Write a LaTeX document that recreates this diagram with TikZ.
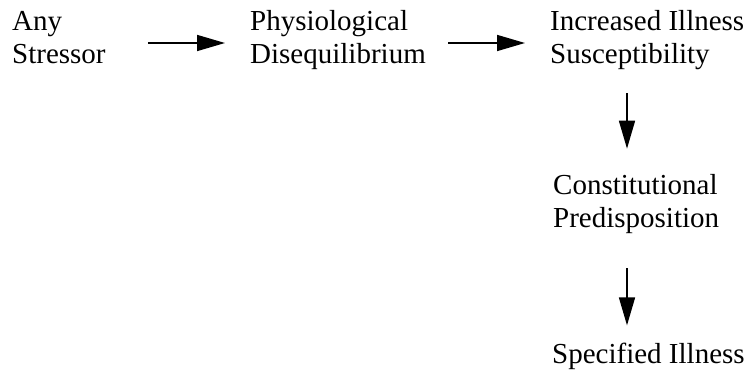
\documentclass[tikz,border=0pt]{standalone}
\usepackage{fontspec}
\setmainfont{Liberation Serif}
\usetikzlibrary{arrows.meta,calc}
\begin{document}
\begin{tikzpicture}[x=1pt,y=1pt,
  label/.style={inner sep=0pt,align=left,anchor=base west,
    font=\fontsize{29}{33}\selectfont},
  arr/.style={line width=1.6pt,-{Triangle[length=28pt,width=16pt]}}]
\useasboundingbox[fill=white] (0,0) rectangle (750,-374);
% chain of stages (anchored at the baseline of the last line)
\node[label] (any)   at (12,-64)  {Any\\Stressor};
\node[label] (phys)  at (250,-64) {Physiological\\Disequilibrium};
\node[label] (incr)  at (550,-64) {Increased Illness\\Susceptibility};
\node[label] (const) at (553,-228) {Constitutional\\Predisposition};
\node[label] (spec)  at (552,-363) {Specified Illness};
% row of the horizontal arrows, column of the vertical ones
\coordinate (row) at (0,-43);
\coordinate (col) at (627,0);
\draw[arr] ($(any.east |- row)+(42,0)$) -- ($(phys.west |- row)+(-25,0)$);
\draw[arr] ($(phys.east |- row)+(22,0)$) -- ($(incr.west |- row)+(-25,0)$);
\draw[arr] ($(incr.south -| col)+(0,-23)$) -- ($(const.north -| col)+(0,26)$);
\draw[arr] ($(const.south -| col)+(0,-34)$) -- ($(spec.north -| col)+(0,17)$);
\end{tikzpicture}
\end{document}
